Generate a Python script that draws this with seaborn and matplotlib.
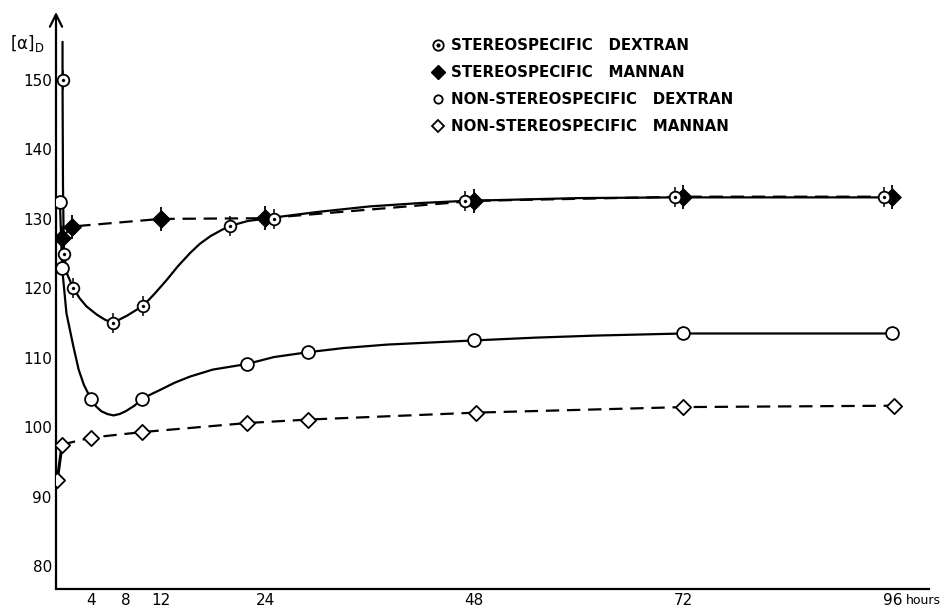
import matplotlib
matplotlib.use('Agg')
import matplotlib.pyplot as plt
import seaborn as sns
from matplotlib.lines import Line2D

# stereospecific dextran (circle with dot)
sd_hours = [0.75, 0.9, 2, 6.5, 10, 20, 25, 47, 71, 95]
sd_rot = [150, 125, 120, 115, 117.5, 129, 130, 132.6, 133.1, 133.1]
# the hand drawn curve through them
sd_curve_hours = [0.75, 0.75, 0.8, 0.9, 1.3, 2, 2.7, 3.5, 4.7, 5.6, 6.5, 8.2, 10, 11.3, 12.7, 14,
                  15.4, 16.5, 17.7, 19, 20, 22, 25, 30, 36, 42, 47, 60, 71, 95]
sd_curve_rot = [155.5, 150, 135, 125, 122, 120, 118.6, 117.4, 116.2, 115.5, 115, 116.1, 117.5, 119.2, 121.2, 123.2,
                125.1, 126.4, 127.5, 128.4, 129, 129.7, 130.2, 131, 131.8, 132.3, 132.6, 133, 133.1, 133.1]

# stereospecific mannan (filled diamond)
sm_hours = [0.65, 1.8, 12, 24, 48, 72, 96]
sm_rot = [127.2, 128.9, 130, 130.1, 132.6, 133.2, 133.2]

# non-stereospecific dextran (open circle)
nd_hours = [0.45, 0.7, 4, 9.9, 21.9, 28.9, 48, 72, 96]
nd_rot = [132.5, 123, 104.1, 104.1, 109.1, 110.8, 112.5, 113.5, 113.5]
nd_curve_hours = [0.45, 0.7, 1.2, 2.0, 2.6, 3.2, 4, 4.6, 5.2, 5.9, 6.6, 7.3, 8, 9, 9.9, 11, 12, 13.6,
                  15.4, 18, 21.9, 25, 28.9, 33, 38, 43, 48, 55, 62, 72, 84, 96]
nd_curve_rot = [132.5, 123, 116.4, 111.6, 108.3, 106.1, 104.1, 103, 102.3, 101.9, 101.7, 101.9, 102.3, 103.1, 104.1,
                104.8, 105.4, 106.4, 107.3, 108.3, 109.1, 110.1, 110.8, 111.4, 111.9, 112.2, 112.5, 112.9, 113.2,
                113.5, 113.5, 113.5]

# non-stereospecific mannan (open diamond)
nm_hours = [0.15, 0.7, 4, 9.9, 21.9, 28.9, 48.2, 72, 96.2]
nm_rot = [92.4, 97.5, 98.5, 99.3, 100.6, 101.1, 102.1, 102.9, 103.1]

x_ticks = [4, 8, 12, 24, 48, 72, 96]
y_ticks = [80, 90, 100, 110, 120, 130, 140, 150]

labels = ['STEREOSPECIFIC   DEXTRAN', 'STEREOSPECIFIC   MANNAN',
          'NON-STEREOSPECIFIC   DEXTRAN', 'NON-STEREOSPECIFIC   MANNAN']

sns.set_style('white')
plt.rcParams['font.family'] = ['DejaVu Sans']
plt.rcParams['text.color'] = 'black'

fig = plt.figure(figsize=(9.51, 6.07), dpi=100)
ax = fig.add_axes([56 / 951, 18 / 607, 873 / 951, 577 / 607])

dash = (0, (6, 3.5))
lw = 1.6

# lines
sns.lineplot(x=sd_curve_hours, y=sd_curve_rot, sort=False, estimator=None,
             color='black', lw=lw, ax=ax)
sns.lineplot(x=nd_curve_hours, y=nd_curve_rot, sort=False, estimator=None,
             color='black', lw=lw, ax=ax)
sns.lineplot(x=sm_hours, y=sm_rot, sort=False, estimator=None,
             color='black', lw=lw, linestyle=dash, ax=ax)
sns.lineplot(x=nm_hours[1:], y=nm_rot[1:], sort=False, estimator=None,
             color='black', lw=lw, linestyle=dash, ax=ax)
sns.lineplot(x=nm_hours[:2], y=nm_rot[:2], sort=False, estimator=None,
             color='black', lw=2.2, ax=ax)

# markers
sns.scatterplot(x=sm_hours, y=sm_rot, marker='|', s=300, color='black',
                linewidth=1.3, ax=ax, zorder=4)
sns.scatterplot(x=sm_hours, y=sm_rot, marker='D', s=80, color='black',
                edgecolor='black', ax=ax, zorder=5)
sns.scatterplot(x=nm_hours, y=nm_rot, marker='D', s=60, color='white',
                edgecolor='black', linewidth=1.3, ax=ax, zorder=5)
sns.scatterplot(x=nd_hours, y=nd_rot, marker='o', s=85, color='white',
                edgecolor='black', linewidth=1.3, ax=ax, zorder=5)
sns.scatterplot(x=sd_hours, y=sd_rot, marker='|', s=190, color='black',
                linewidth=1.1, ax=ax, zorder=4)
sns.scatterplot(x=sd_hours, y=sd_rot, marker='o', s=70, color='white',
                edgecolor='black', linewidth=1.3, ax=ax, zorder=5)
sns.scatterplot(x=sd_hours, y=sd_rot, marker='o', s=5, color='black',
                edgecolor='black', ax=ax, zorder=6)

ax.set_xlim(0, 100.2)
ax.set_ylim(76.7, 159.8)
ax.set_xticks(x_ticks)
ax.set_yticks(y_ticks)
ax.tick_params(axis='both', direction='in', length=7, width=1.4, labelsize=11,
               pad=3, color='black', labelcolor='black')
ax.set_xlabel('')
ax.set_ylabel('')
for side in ['top', 'right', 'left']:
    ax.spines[side].set_visible(False)
ax.spines['bottom'].set_linewidth(1.6)
ax.spines['bottom'].set_color('black')
ax.annotate('', xy=(0, 1.0), xycoords='axes fraction', xytext=(0, 0),
            textcoords='axes fraction',
            arrowprops=dict(arrowstyle='->', lw=1.6, color='black',
                            mutation_scale=22, shrinkA=0, shrinkB=0))

fig.text(10 / 951, 1 - 44 / 607, r'$[\mathrm{\alpha}]_\mathrm{D}$', fontsize=12,
         va='center', ha='left')
fig.text(906 / 951, 1 - 600 / 607, 'hours', fontsize=9, va='center', ha='left')

handles = [
    (Line2D([], [], marker='o', markersize=7.5, markerfacecolor='white',
            markeredgecolor='black', markeredgewidth=1.3, linestyle='none'),
     Line2D([], [], marker='o', markersize=2, color='black', linestyle='none')),
    Line2D([], [], marker='D', markersize=7, color='black', linestyle='none'),
    Line2D([], [], marker='o', markersize=6, markerfacecolor='white',
           markeredgecolor='black', markeredgewidth=1.3, linestyle='none'),
    Line2D([], [], marker='D', markersize=6.5, markerfacecolor='white',
           markeredgecolor='black', markeredgewidth=1.3, linestyle='none'),
]
leg = ax.legend(handles, labels, loc='upper left',
                bbox_to_anchor=(432 / 951, 1 - 38 / 607),
                bbox_transform=fig.transFigure, frameon=False,
                prop={'size': 10.8, 'weight': 'bold'},
                handlelength=0.8, handletextpad=0.45, labelspacing=0.8,
                borderpad=0, borderaxespad=0)
for t in leg.get_texts():
    t.set_color('black')

fig.savefig('out.png', dpi=100)
